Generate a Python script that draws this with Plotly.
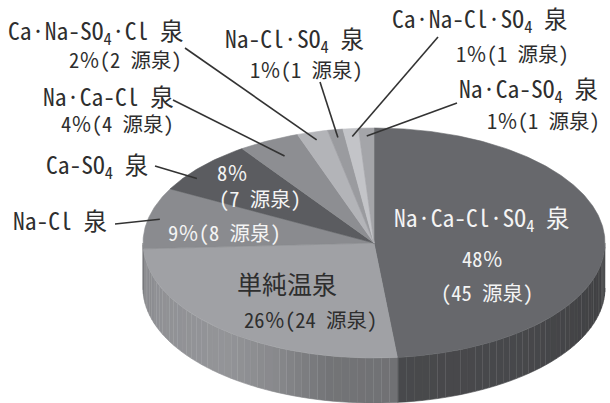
import numpy as np
import plotly.graph_objects as go

# 泉質別の源泉数（時計回り、12時の位置から）
names = [
    "Na·Ca-Cl·SO<sub>4</sub> 泉",
    "単純温泉",
    "Na-Cl 泉",
    "Ca-SO<sub>4</sub> 泉",
    "Na·Ca-Cl 泉",
    "Ca·Na-SO<sub>4</sub>·Cl 泉",
    "Na-Cl·SO<sub>4</sub> 泉",
    "Ca·Na-Cl·SO<sub>4</sub> 泉",
    "Na·Ca-SO<sub>4</sub> 泉",
]
counts = [45, 24, 8, 7, 4, 2, 1, 1, 1]
top_colors = ["#67686c", "#a0a1a5", "#8a8b8f", "#5b5c60", "#8d8e92",
              "#b3b4b8", "#9a9b9f", "#c3c4c8", "#a4a5a9"]

FONT = "Noto Sans Mono CJK JP, Noto Sans CJK JP, sans-serif"
DARK = "#2e2e2e"
LIGHT = "#f4f4f4"

# 円盤の形（画面座標）
CX, CY, RX, RY, DEPTH = 374, 243, 231, 115, 45

total = sum(counts)
bounds = np.concatenate([[0], np.cumsum(counts)]) / total * 360.0


def pt(theta, r=1.0, dz=0.0):
    th = np.radians(theta)
    return CX + RX * r * np.sin(th), CY - RY * r * np.cos(th) + dz


def hex_rgb(h):
    return tuple(int(h[i:i + 2], 16) for i in (1, 3, 5))


def shade(h, f):
    r, g, b = hex_rgb(h)
    return "rgb(%d,%d,%d)" % tuple(max(0, min(255, round(c * f))) for c in (r, g, b))


# 側面の明るさ（角度による陰影）
shade_ang = [90, 140, 174, 191, 205, 220, 250, 270]
shade_fac = [0.60, 0.69, 0.70, 0.72, 0.85, 0.92, 0.90, 0.80]

fig = go.Figure()

# 側面
for i, col in enumerate(top_colors):
    a0, a1 = max(bounds[i], 90.0), min(bounds[i + 1], 270.0)
    if a1 <= a0:
        continue
    edges = np.arange(a0, a1, 2.0).tolist() + [a1]
    for b0, b1 in zip(edges[:-1], edges[1:]):
        ts = np.linspace(b0, b1, 6)
        xt, yt = pt(ts)
        xb, yb = pt(ts[::-1], dz=DEPTH)
        f = float(np.interp((b0 + b1) / 2, shade_ang, shade_fac))
        c = shade(col, f)
        fig.add_trace(go.Scatter(
            x=np.concatenate([xt, xb]), y=np.concatenate([yt, yb]),
            mode="lines", fill="toself", fillcolor=c,
            line=dict(color=c, width=0.6), hoverinfo="skip", showlegend=False))

# 上面
for i, col in enumerate(top_colors):
    ts = np.linspace(bounds[i], bounds[i + 1], max(4, int((bounds[i + 1] - bounds[i]) * 2)))
    xa, ya = pt(ts)
    fig.add_trace(go.Scatter(
        x=np.concatenate([[CX], xa, [CX]]), y=np.concatenate([[CY], ya, [CY]]),
        mode="lines", fill="toself", fillcolor=col,
        line=dict(color=col, width=0.6), hoverinfo="skip", showlegend=False))


def pct(c):
    return f"{round(100 * c / total)}％"


pct_text = [f"{pct(c)}({c} 源泉)" for c in counts]

ann = []


def label(x, y, text, size, color):
    ann.append(dict(x=x, y=y, text=text, showarrow=False, xanchor="center",
                    yanchor="middle", font=dict(family=FONT, size=size, color=color)))


NAME_SIZE, PCT_SIZE = 23.5, 20.5

# 円内のラベル
label(482, 218, names[0], NAME_SIZE, LIGHT)
label(482, 258, pct(counts[0]), PCT_SIZE, LIGHT)
label(487, 292, f"({counts[0]} 源泉)", PCT_SIZE, LIGHT)
label(287, 283, names[1], 25, DARK)
label(310, 319, pct_text[1], PCT_SIZE, DARK)
label(224, 232, pct_text[2], PCT_SIZE, LIGHT)
label(232, 172, pct(counts[3]), PCT_SIZE, LIGHT)
label(260, 198, f"({counts[3]} 源泉)", PCT_SIZE, LIGHT)

# 外側のラベル: (slice, 名前位置, 割合位置, 引出線の始点, 扇形内の位置(割合), 半径比)
outside = [
    (2, (60, 220), None, (115, 224), 0.5, 0.95),
    (3, (97, 165), None, (155, 166), 0.3, 0.95),
    (4, (108, 96), (117, 123), (173, 100), 0.5, 0.85),
    (5, (96, 31), (125, 59), (185, 48), 0.5, 0.93),
    (6, (294, 39), (306, 69), (320, 82), 0.5, 0.93),
    (7, (480, 19), (512, 53), (438, 37), 0.5, 0.93),
    (8, (528, 89), (543, 120), (457, 103), 0.5, 0.93),
]
for i, npos, ppos, start, frac, r in outside:
    label(*npos, names[i], NAME_SIZE, DARK)
    if ppos is not None:
        label(*ppos, pct_text[i], PCT_SIZE, DARK)
    ang = bounds[i] + frac * (bounds[i + 1] - bounds[i])
    ex, ey = pt(ang, r)
    fig.add_trace(go.Scatter(x=[start[0], ex], y=[start[1], ey], mode="lines",
                             line=dict(color="#333333", width=1.6),
                             hoverinfo="skip", showlegend=False))

fig.update_layout(
    width=610, height=403, autosize=False,
    margin=dict(l=0, r=0, t=0, b=0),
    paper_bgcolor="white", plot_bgcolor="white",
    xaxis=dict(range=[0, 610], visible=False, fixedrange=True),
    yaxis=dict(range=[403, 0], visible=False, fixedrange=True),
    annotations=ann, showlegend=False,
)

fig.write_html("out.html")
